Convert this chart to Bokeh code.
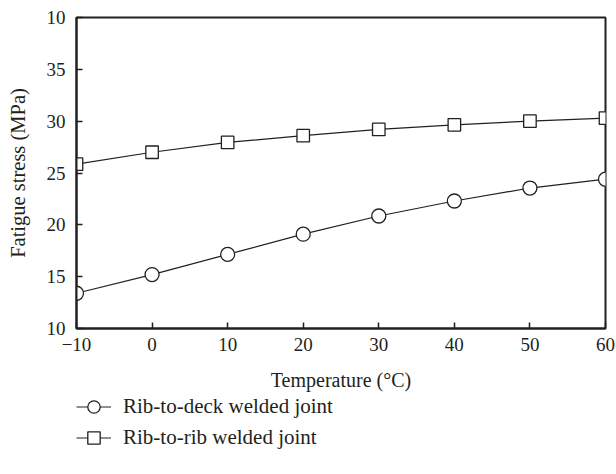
from bokeh.plotting import figure
from bokeh.layouts import column
from bokeh.models import Legend, LegendItem, FixedTicker
from bokeh.embed import file_html
from bokeh.resources import INLINE

temperature = [-10, 0, 10, 20, 30, 40, 50, 60]
rib_to_deck = [13.4, 15.2, 17.15, 19.1, 20.85, 22.3, 23.55, 24.4]
rib_to_rib = [25.85, 27.0, 27.95, 28.6, 29.2, 29.65, 30.0, 30.3]
x_ticks = [-10, 0, 10, 20, 30, 40, 50, 60]
x_tick_labels = ["\u221210", "0", "10", "20", "30", "40", "50", "60"]
y_ticks = [10, 15, 20, 25, 30, 35, 40]
y_tick_labels = ["10", "15", "20", "25", "30", "35", "10"]
series_names = ["Rib-to-deck welded joint", "Rib-to-rib welded joint"]

INK = "#231f20"
FONT = "Liberation Serif"

p = figure(frame_width=529, frame_height=311, output_backend="svg", toolbar_location=None,
           x_range=(-10, 60), y_range=(10, 40),
           min_border_left=76, min_border_top=17, min_border_right=11, min_border_bottom=0)
p.grid.visible = False
p.outline_line_color = INK
p.outline_line_width = 2
p.outline_line_alpha = 1
p.background_fill_color = "white"
p.border_fill_color = "white"

for ax in (p.xaxis[0], p.yaxis[0]):
    ax.axis_line_color = INK
    ax.axis_line_width = 2
    ax.major_tick_line_color = INK
    ax.major_tick_line_width = 1.5
    ax.major_tick_in = 6
    ax.major_tick_out = 0
    ax.minor_tick_line_color = None
    ax.major_label_text_font = FONT
    ax.major_label_text_font_size = "19px"
    ax.major_label_text_color = INK
    ax.axis_label_text_font = FONT
    ax.axis_label_text_font_size = "20px"
    ax.axis_label_text_font_style = "normal"
    ax.axis_label_text_color = INK

p.xaxis.ticker = FixedTicker(ticks=x_ticks)
p.xaxis.major_label_overrides = {t: l for t, l in zip(x_ticks, x_tick_labels)}
p.yaxis.ticker = FixedTicker(ticks=y_ticks)
p.yaxis.major_label_overrides = {t: l for t, l in zip(y_ticks, y_tick_labels)}
p.xaxis.axis_label = "Temperature (\u00b0C)"
p.yaxis.axis_label = "Fatigue stress (MPa)"
p.xaxis.major_label_standoff = 9
p.yaxis.major_label_standoff = 11
p.xaxis.axis_label_standoff = 15
p.yaxis.axis_label_standoff = 15
p.yaxis.axis_label_text_font_size = "20.5px"

line_style = dict(line_color=INK, line_width=1.2)
circle_style = dict(marker="circle", size=14, fill_color="white", line_color=INK, line_width=1.3)
square_style = dict(marker="square", size=12.5, fill_color="white", line_color=INK, line_width=1.3)

p.line(temperature, rib_to_deck, **line_style)
p.scatter(temperature, rib_to_deck, **circle_style)
p.line(temperature, rib_to_rib, **line_style)
p.scatter(temperature, rib_to_rib, **square_style)

# legend panel below the chart (its frame is aligned with the chart's frame);
# the sample glyphs get the series' data, which lies outside this panel's ranges
lg = figure(width=616, height=84, output_backend="svg", toolbar_location=None,
            x_range=(1000, 1001), y_range=(1000, 1001), x_axis_type=None, y_axis_type=None,
            min_border_left=76, min_border_right=11, min_border_top=0, min_border_bottom=0)
lg.grid.visible = False
lg.outline_line_color = None
lg.background_fill_color = "white"
lg.border_fill_color = "white"
e1 = lg.line(temperature, rib_to_deck, **line_style)
m1 = lg.scatter(temperature, rib_to_deck, **circle_style)
e2 = lg.line(temperature, rib_to_rib, **line_style)
m2 = lg.scatter(temperature, rib_to_rib, **square_style)

legend = Legend(items=[LegendItem(label=series_names[0], renderers=[e1, m1]),
                       LegendItem(label=series_names[1], renderers=[e2, m2])],
                location=(0, 24), orientation="vertical",
                glyph_width=35, glyph_height=31, spacing=0, padding=0, margin=0,
                label_standoff=12,
                label_text_font=FONT, label_text_font_size="21px", label_text_color=INK,
                border_line_color=None, background_fill_alpha=0)
lg.add_layout(legend, "center")

layout = column(p, lg, spacing=0)
open("out.html", "w").write(file_html(layout, INLINE))
